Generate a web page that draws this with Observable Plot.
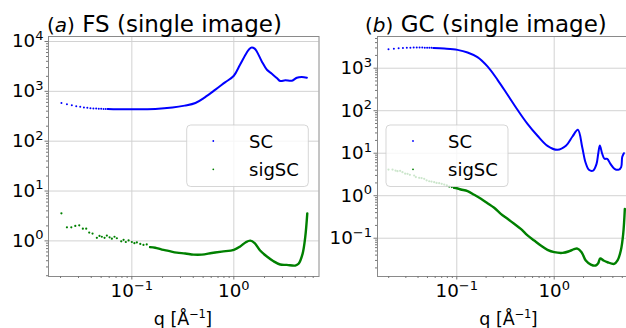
<!DOCTYPE html>
<html>
<head>
<meta charset="utf-8">
<script src="https://cdn.jsdelivr.net/npm/d3@7"></script>
<script src="https://cdn.jsdelivr.net/npm/@observablehq/plot@0.6"></script>
<style>
  html, body { margin: 0; padding: 0; background: #fff; }
  #fig { position: relative; width: 626px; height: 328px; overflow: hidden; background: #fff; font-family: "DejaVu Sans", sans-serif; }
  #fig svg { position: absolute; top: 0; }
</style>
</head>
<body>
<div id="fig"></div>
<script>
// ---------- data ----------
// Panel (a) FS : SC
const fsQ  = [0.0204,0.0231,0.0258,0.0285,0.0312,0.0339,0.0366,0.0393,0.042,0.0447,0.0474,0.0501,0.0528,0.0555,0.0582,
              0.07,0.1,0.17,0.25,0.33,0.42,0.52,0.66,0.82,1.0,1.15,1.34,1.42,1.5,1.6,1.68,1.88,2.11,2.36,2.64,2.85,3.19,3.71,4.15,4.64,5.2];
const fsSC = [584,550,525,505,488,476,467,460,454,450,447,445,443,442,441,
              439,437,443,472,517,584,759,1080,1514,2057,3416,6026,7100,7586,7200,6310,3981,2712,2256,1849,1610,1660,1634,1877,1936,1877];
// Panel (a) FS : sigSC
const fsSigQ = [0.0204,0.0231,0.0255,0.0279,0.0305,0.0331,0.0357,0.0382,0.0412,0.0454,0.0482,0.0508,0.054,0.0569,0.0605,0.0637,0.0676,0.0713,
                0.0787,0.083,0.0873,0.0929,0.1,0.106,0.112,0.121,0.13,0.14,0.151,0.1695,0.197,0.229,0.276,0.334,0.403,0.485,0.608,0.762,
                1.0,1.154,1.31,1.45,1.6,1.81,2.11,2.45,2.85,3.31,4.0,4.31,4.72,5.01,5.25];
const fsSig  = [3.57,1.87,1.87,2.0,2.05,1.76,1.76,1.47,1.40,1.15,1.26,1.21,1.15,1.28,1.18,1.11,1.21,1.13,
                0.98,1.05,0.95,1.02,0.95,0.90,0.93,0.87,0.83,0.85,0.75,0.73,0.67,0.63,0.58,0.56,0.53,0.53,0.57,0.61,
                0.66,0.77,0.94,1.01,0.90,0.64,0.485,0.39,0.336,0.33,0.32,0.347,0.55,1.18,3.57];
// Panel (b) GC : SC
const gcQ  = [0.0199,0.0226,0.0253,0.028,0.0307,0.0334,0.0361,0.0388,0.0415,0.0442,0.0469,0.0496,0.0523,0.055,0.0577,
              0.0743,0.1016,0.129,0.163,0.2065,0.262,0.332,0.42,0.532,0.674,0.853,1.08,1.32,1.54,1.75,1.94,2.09,2.27,2.51,
              2.72,2.83,2.94,3.11,3.28,3.5,3.78,4.16,4.61,4.87,4.99,5.19];
const gcSC = [2800,2880,2940,2980,3010,3030,3050,3060,3060,3050,3040,3030,3020,3010,3000,
              2900,2700,2350,1820,1100,533,237,105,49,25.7,14.9,12.0,14.9,24.7,35.5,13.8,6.2,4.1,3.9,
              5.6,9.7,15.2,9.7,7.4,7.4,5.6,4.3,4.1,4.7,8.1,10];
// Panel (b) GC : sigSC
const gcSigQ = [0.0199,0.0219,0.0235,0.0246,0.0262,0.0277,0.0295,0.0312,0.033,0.0365,0.038,0.0411,0.0435,0.0463,0.049,0.0521,0.055,0.0586,
                0.062,0.066,0.07,0.0743,0.079,0.0836,0.089,0.094,0.1,0.11,0.129,0.151,0.177,0.2065,0.242,0.283,0.332,0.388,0.454,
                0.532,0.623,0.728,0.853,1.0,1.22,1.43,1.6,1.73,1.91,2.11,2.38,2.67,2.83,2.97,3.21,3.53,4.13,4.47,4.83,5.11,5.31];
const gcSig  = [4.13,4.13,3.9,3.77,3.85,3.57,3.3,3.27,3.1,2.99,2.75,2.63,2.6,2.49,2.3,2.19,2.15,2.08,
                2.0,1.97,1.9,1.83,1.75,1.64,1.6,1.53,1.5,1.40,1.28,1.05,0.845,0.667,0.519,0.375,0.286,0.218,0.166,
                0.116,0.088,0.0673,0.0533,0.0469,0.0452,0.0494,0.0551,0.057,0.047,0.0299,0.024,0.0228,0.0258,0.0333,0.0299,0.0272,0.0249,0.0299,0.0513,0.127,0.491];

const seriesNames = ["SC", "sigSC"];
const seriesColors = ["blue", "green"];
const xTicks = [0.1, 1];
const fsYTicks = [1, 10, 100, 1000, 10000];
const gcYTicks = [0.1, 1, 10, 100, 1000];
const panelLetters = ["a", "b"];
const panelTitles = ["FS (single image)", "GC (single image)"];
const xLabelMain = "q [Å";
const xLabelSup = "−1";
const xLabelEnd = "]";

// ---------- helpers ----------
const rows = (qs, vs) => qs.map((q, i) => ({q, v: vs[i]}));
function minors([a, b]) {
  const out = [];
  for (let e = Math.floor(Math.log10(a)); e <= Math.ceil(Math.log10(b)); e++)
    for (let k = 2; k <= 9; k++) { const v = k * Math.pow(10, e); if (v >= a && v <= b) out.push(v); }
  return out;
}
const powFmt = d => "10^" + Math.round(Math.log10(d));

function panel({sc, sig, scDotMax, sigDotMin, sigDotMax, xDomain, yDomain, yTicks, width, marginLeft, marginRight, yPad}) {
  const scData = rows(...sc), sigData = rows(...sig);
  const svg = Plot.plot({
    width, height: 328,
    marginLeft, marginRight, marginTop: 36, marginBottom: 52,
    x: {type: "log", domain: xDomain},
    y: {type: "log", domain: yDomain},
    style: {fontFamily: "'DejaVu Sans', sans-serif", fontSize: "18.3px", color: "#000", background: "transparent", overflow: "visible"},
    marks: [
      Plot.gridX(xTicks, {stroke: "#d2d2d2", strokeOpacity: 1, strokeWidth: 1}),
      Plot.gridY(yTicks, {stroke: "#d2d2d2", strokeOpacity: 1, strokeWidth: 1}),
      Plot.dot(sigData.filter(d => d.q <= sigDotMax), {x: "q", y: "v", r: 1.1, fill: seriesColors[1], stroke: null}),
      Plot.line(sigData.filter(d => d.q >= sigDotMin), {x: "q", y: "v", stroke: seriesColors[1], strokeWidth: 2.4, curve: "catmull-rom"}),
      Plot.dot(scData.filter(d => d.q <= scDotMax), {x: "q", y: "v", r: 1, fill: seriesColors[0], stroke: null}),
      Plot.line(scData.filter(d => d.q >= 0.057), {x: "q", y: "v", stroke: seriesColors[0], strokeWidth: 2, curve: "catmull-rom"}),
      Plot.frame({stroke: "#8a8a8a", strokeWidth: 1}),
      Plot.axisX(minors(xDomain), {tickSize: 2, tickFormat: () => "", label: null, stroke: "#777"}),
      Plot.axisY(minors(yDomain), {tickSize: 2, tickFormat: () => "", label: null, stroke: "#777"}),
      Plot.axisX(xTicks, {tickSize: 3.5, tickPadding: 4, tickFormat: powFmt, label: null, stroke: "#777", fill: "#000"}),
      Plot.axisY(yTicks, {tickSize: 3.5, tickPadding: yPad, tickFormat: powFmt, label: null, stroke: "#777", fill: "#000"})
    ]
  });
  d3.select(svg).selectAll("text").each(function () {
    const m = /^10\^(-?\d+)$/.exec(this.textContent.trim());
    if (!m) return;
    const t = d3.select(this);
    t.text(null);
    t.append("tspan").text("10");
    t.append("tspan").attr("font-size", "13px").attr("dy", -7.5).text(m[1].replace("-", "−"));
  });
  return svg;
}

const fig = document.getElementById("fig");

const left = panel({
  sc: [fsQ, fsSC], sig: [fsSigQ, fsSig],
  scDotMax: 0.059, sigDotMin: 0.151, sigDotMax: 0.152,
  xDomain: [0.01524, 6.84], yDomain: [0.193, 12590], yTicks: fsYTicks,
  width: 320, marginLeft: 48, marginRight: 1.5, yPad: 1.5
});
left.style.left = "0px";
fig.appendChild(left);

const right = panel({
  sc: [gcQ, gcSC], sig: [gcSigQ, gcSig],
  scDotMax: 0.059, sigDotMin: 0.094, sigDotMax: 0.095,
  xDomain: [0.01535, 7.69], yDomain: [0.01256, 5572], yTicks: gcYTicks,
  width: 330, marginLeft: 67, marginRight: 0, yPad: 2
});
right.style.left = "310px";
fig.appendChild(right);

// ---------- overlay: titles, axis labels, legends ----------
const ov = d3.create("svg").attr("width", 626).attr("height", 328)
  .style("left", "0px").style("font-family", "'DejaVu Sans', sans-serif");

const titlePos = [{x: 47, y: 32}, {x: 365, y: 31.5}];
titlePos.forEach((p, i) => {
  const t = ov.append("text").attr("x", p.x).attr("y", p.y).attr("fill", "#000");
  t.append("tspan").attr("font-size", "20px").text("(");
  t.append("tspan").attr("font-size", "20px").attr("font-style", "italic").text(panelLetters[i]);
  t.append("tspan").attr("font-size", "20px").text(")");
  t.append("tspan").attr("font-size", "23px").text("\u00a0" + panelTitles[i]);
});

[183, 508.5].forEach(cx => {
  const t = ov.append("text").attr("x", cx).attr("y", 325).attr("text-anchor", "middle")
    .attr("font-size", "17.5px").attr("fill", "#000");
  t.append("tspan").text(xLabelMain);
  t.append("tspan").attr("font-size", "11.5px").attr("dy", -7).attr("letter-spacing", "-0.5px").text(xLabelSup);
  t.append("tspan").attr("dy", 7).text(xLabelEnd);
});

const legendPos = [{x0: 186.7, x1: 308.3, mx: 213.3, tx: 249}, {x0: 386, x1: 508, mx: 413, tx: 448}];
legendPos.forEach(L => {
  ov.append("rect").attr("x", L.x0).attr("y", 125).attr("width", L.x1 - L.x0).attr("height", 61.5)
    .attr("rx", 4).attr("fill", "rgba(255,255,255,0.8)").attr("stroke", "rgba(204,204,204,0.8)").attr("stroke-width", 1);
  seriesNames.forEach((name, j) => {
    const my = [141, 169.3][j], ty = [148, 176][j];
    ov.append("circle").attr("cx", L.mx).attr("cy", my).attr("r", 0.9).attr("fill", seriesColors[j]);
    ov.append("text").attr("x", L.tx).attr("y", ty).attr("font-size", "18px").attr("fill", "#000").text(name);
  });
});
fig.appendChild(ov.node());
</script>
</body>
</html>
